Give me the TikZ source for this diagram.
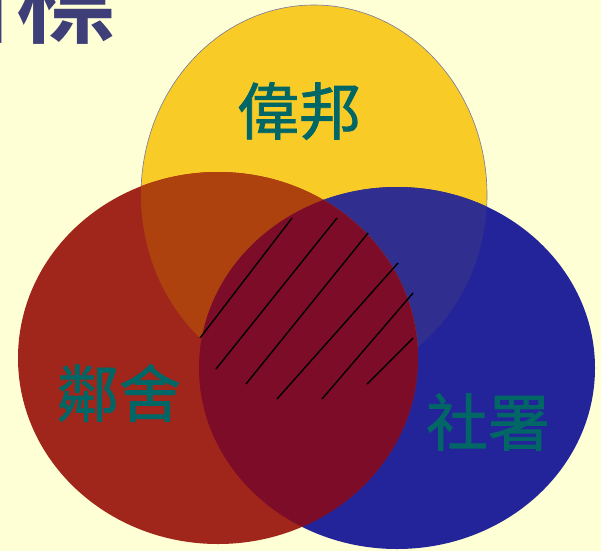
\documentclass[tikz,border=0pt]{standalone}
\usepackage{fontspec}
\usepackage{tikz}
\newfontfamily\cjk[FakeBold=1.2]{Noto Sans CJK TC}
\newfontfamily\cjkbold{Noto Sans CJK TC Bold}
\definecolor{bgyellow}{HTML}{FFFFD5}
\definecolor{goldfill}{HTML}{F8CB26}
\definecolor{rustfill}{HTML}{A0261C}
\definecolor{navyfill}{HTML}{24249A}
\definecolor{amberfill}{HTML}{AE420F}
\definecolor{plumfill}{HTML}{7C0C28}
\definecolor{duskfill}{HTML}{302E8E}
\definecolor{tealtext}{HTML}{006666}
\definecolor{slatetext}{HTML}{3E3E78}

\begin{document}
\begin{tikzpicture}[x=1pt, y=-1pt,
  member/.style={font=\cjk\fontsize{62}{62}\selectfont, text=tealtext},
  hatch/.style={black, line width=1.4pt}]
\fill[bgyellow] (0,0) rectangle (601,551);
\useasboundingbox (0,0) rectangle (601,551);
\begin{scope}
\clip (0,0) rectangle (601,551);
\node[anchor=base west, font=\cjkbold\fontsize{100}{100}\selectfont, text=slatetext, inner sep=0pt] (goal) at (-84,36) {目標};
% the three circles
\fill[goldfill, draw=slatetext!70, line width=0.6pt] (314,195) ellipse [x radius=173, y radius=190];
\fill[navyfill] (397,368) ellipse [x radius=198, y radius=181];
\begin{scope}
\clip (397,368) ellipse [x radius=198, y radius=181];
\fill[duskfill] (314,195) ellipse [x radius=173, y radius=190];
\end{scope}
\fill[rustfill] (218,358) ellipse [x radius=200, y radius=186];
\begin{scope}
\clip (218,358) ellipse [x radius=200, y radius=186];
\fill[amberfill] (314,195) ellipse [x radius=173, y radius=190];
\fill[plumfill] (397,368) ellipse [x radius=198, y radius=181];
\end{scope}
\end{scope}
\node[member] (wai) at (299,111) {偉邦};
\node[member] (neighbour) at (119,393) {鄰舍};
\node[member] (swd) at (488,422) {社署};
\draw[hatch] (200,338) -- (292,218);
\draw[hatch] (216,369) -- (337,218);
\draw[hatch] (246,384) -- (368,233);
\draw[hatch] (277,399) -- (398,263);
\draw[hatch] (322,399) -- (413,293);
\draw[hatch] (367,384) -- (413,338);
\end{tikzpicture}
\end{document}
